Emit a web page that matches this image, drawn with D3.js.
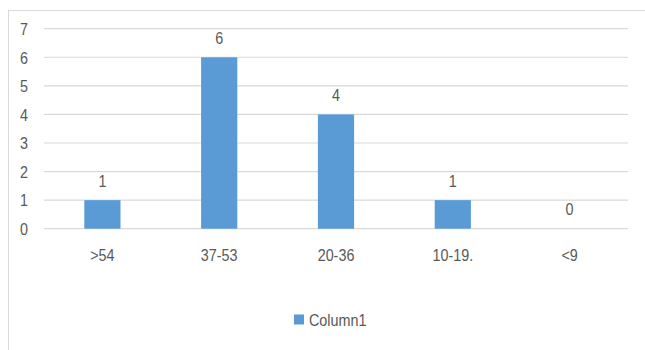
<!DOCTYPE html>
<html>
<head>
<meta charset="utf-8">
<script src="https://cdn.jsdelivr.net/npm/d3@7/dist/d3.min.js"></script>
<style>
  html, body { margin: 0; padding: 0; background: #fff; }
  svg { display: block; font-family: "Liberation Sans", Arial, sans-serif; }
</style>
</head>
<body>
<svg id="chart" width="645" height="350"></svg>
<script>
// Age groups and their counts
const categories = [">54", "37-53", "20-36", "10-19.", "<9"];
const values = [1, 6, 4, 1, 0];
const yTicks = [0, 1, 2, 3, 4, 5, 6, 7];
const seriesName = "Column1";

const svg = d3.select("#chart");
const W = 645, H = 350;
const plot = { left: 44, right: 628, top: 28.7, bottom: 228.7 };
const textColor = "#595959";
const gridColor = "#D9D9D9";
const barColor = "#5B9BD5";
const fontSize = "16.5px";
const squeeze = 0.87; // narrow the glyphs for a condensed look

function condense(sel) {
  sel.each(function () {
    const len = this.getComputedTextLength();
    d3.select(this)
      .attr("textLength", len * squeeze)
      .attr("lengthAdjust", "spacingAndGlyphs");
  });
}

// Chart area frame
svg.append("rect")
  .attr("x", 8.5).attr("y", 10.5)
  .attr("width", W + 10).attr("height", H + 10)
  .attr("fill", "#fff")
  .attr("stroke", gridColor).attr("stroke-width", 1);

const x = d3.scaleBand()
  .domain(categories)
  .range([plot.left, plot.right])
  .paddingInner(0.69)
  .paddingOuter(0.345);

const y = d3.scaleLinear()
  .domain([0, 7])
  .range([plot.bottom, plot.top]);

// Horizontal gridlines
svg.append("g")
  .selectAll("line")
  .data(yTicks)
  .join("line")
  .attr("x1", plot.left).attr("x2", plot.right)
  .attr("y1", d => y(d)).attr("y2", d => y(d))
  .attr("stroke", gridColor).attr("stroke-width", 1.2);

// Y axis labels
const yAxis = d3.axisLeft(y).tickValues(yTicks).tickSize(0).tickPadding(0).tickFormat(d3.format("d"));
const yg = svg.append("g").attr("transform", "translate(28,0)").call(yAxis);
yg.select(".domain").remove();
yg.selectAll("text")
  .attr("fill", textColor)
  .style("font-size", fontSize)
  .attr("dy", "0.35em")
  .call(condense);

// X axis labels
const xAxis = d3.axisBottom(x).tickSize(0).tickPadding(0);
const xg = svg.append("g").attr("transform", `translate(0,${plot.bottom + 20})`).call(xAxis);
xg.select(".domain").remove();
xg.selectAll("text")
  .attr("fill", textColor)
  .style("font-size", fontSize)
  .attr("dy", "0.71em")
  .attr("y", 1)
  .call(condense);

// Bars
svg.append("g")
  .selectAll("rect")
  .data(values)
  .join("rect")
  .attr("x", (d, i) => x(categories[i]))
  .attr("width", x.bandwidth())
  .attr("y", d => y(d))
  .attr("height", d => y(0) - y(d))
  .attr("fill", barColor);

// Value labels
svg.append("g")
  .selectAll("text")
  .data(values)
  .join("text")
  .attr("x", (d, i) => x(categories[i]) + x.bandwidth() / 2)
  .attr("y", d => y(d) - 19)
  .attr("dy", "0.35em")
  .attr("text-anchor", "middle")
  .attr("fill", textColor)
  .style("font-size", fontSize)
  .text(d => d)
  .call(condense);

// Legend
const legend = svg.append("g").attr("transform", "translate(294,320)");
legend.append("rect")
  .attr("x", 0).attr("y", -5.5)
  .attr("width", 10).attr("height", 10)
  .attr("fill", barColor);
legend.append("text")
  .attr("x", 15).attr("y", 0)
  .attr("dy", "0.35em")
  .attr("fill", textColor)
  .style("font-size", "16.5px")
  .text(seriesName)
  .call(condense);
</script>
</body>
</html>
